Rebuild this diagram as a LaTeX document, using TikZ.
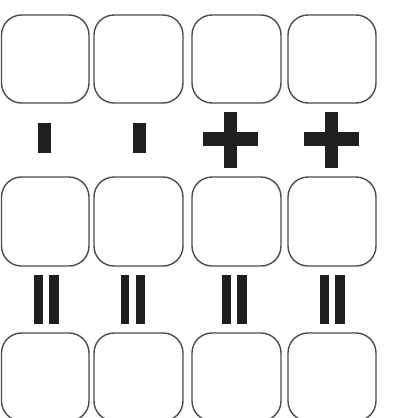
\documentclass[tikz,border=0pt]{standalone}
\begin{document}
\begin{tikzpicture}[x=1pt,y=-1pt,
  box/.style={draw=black!70,line width=1.4pt,rounded corners=20pt,fill=white},
  sym/.style={fill=black!88}]
\useasboundingbox (0,0) rectangle (393,418);
\clip (0,0) rectangle (393,418);
% boxes
\foreach \r/\ya/\yb in {1/15/103,2/177/266,3/333/421}{
  \foreach \c/\xa/\xb in {1/1.5/89,2/94/183,3/192/281,4/288/376}{
    \draw[box] (\xa,\ya) rectangle (\xb,\yb);
  }
}
% minus (short vertical bars)
\fill[sym] (38,123) rectangle (51,153);
\fill[sym] (133,123) rectangle (146,153);
% plus signs
\fill[sym] (224,112) rectangle (237,168);
\fill[sym] (203,132) rectangle (258,146);
\fill[sym] (325,112) rectangle (338,168);
\fill[sym] (304,132) rectangle (359,146);
% equals (vertical double bars)
\foreach \a/\b in {34/43,49/59,121/129,136/145,222/231,237/247,320/329,335/345}{
  \fill[sym] (\a,275) rectangle (\b,324);
}
\end{tikzpicture}
\end{document}
